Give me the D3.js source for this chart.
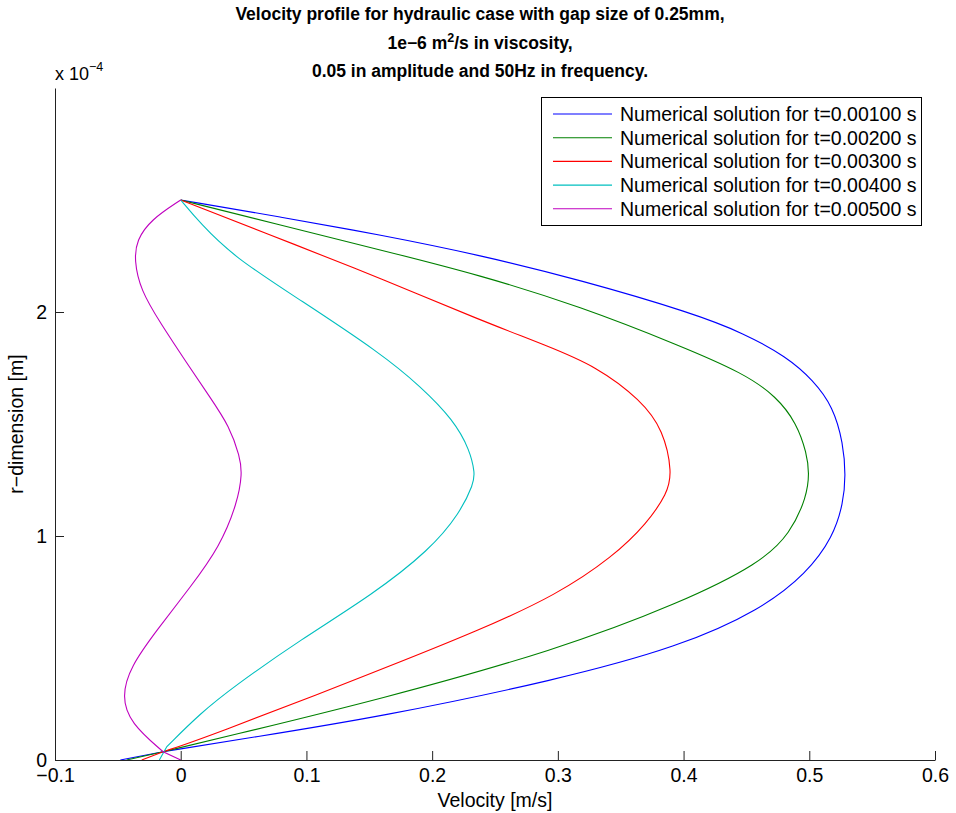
<!DOCTYPE html>
<html>
<head>
<meta charset="utf-8">
<script src="https://cdn.jsdelivr.net/npm/d3@7"></script>
<style>
  body { margin: 0; background: #fff; }
  svg { font-family: "Liberation Sans", Arial, Helvetica, sans-serif; }
</style>
</head>
<body>
<svg id="chart" width="956" height="813"></svg>
<script>
// velocity [m/s], r [x 1e-4 m]
var t001 = [[-0.048,0],[-0.014,0.037],[0.056,0.1],[0.159,0.193],[0.299,0.357],[0.397,0.506],[0.461,0.670],[0.498,0.833],[0.519,0.997],[0.527,1.146],[0.529,1.27],[0.527,1.414],[0.519,1.577],[0.503,1.696],[0.482,1.80],[0.448,1.905],[0.408,1.994],[0.318,2.143],[0.238,2.254],[0.159,2.344],[0.08,2.424],[0,2.5]];
var t002 = [[-0.043,0],[-0.014,0.037],[0.033,0.1],[0.159,0.271],[0.299,0.491],[0.397,0.700],[0.461,0.878],[0.485,1.012],[0.498,1.176],[0.500,1.28],[0.498,1.369],[0.490,1.503],[0.474,1.622],[0.448,1.726],[0.397,1.85],[0.318,2.024],[0.238,2.165],[0.159,2.277],[0.078,2.39],[0,2.5]];
var t003 = [[-0.031,0],[-0.014,0.037],[0.02,0.1],[0.159,0.402],[0.238,0.580],[0.299,0.737],[0.344,0.908],[0.371,1.057],[0.387,1.19],[0.391,1.28],[0.384,1.473],[0.366,1.607],[0.331,1.756],[0.291,1.85],[0.238,1.964],[0.159,2.150],[0.095,2.292],[0,2.5]];
var t004 = [[-0.017,0],[-0.011,0.06],[0.0155,0.208],[0.042,0.327],[0.095,0.536],[0.153,0.74],[0.198,0.9375],[0.222,1.101],[0.233,1.235],[0.234,1.28],[0.230,1.384],[0.217,1.518],[0.191,1.667],[0.159,1.816],[0.095,2.054],[0.042,2.247],[0.0155,2.396],[0,2.5]];
var t005 = [[0,0],[-0.014,0.037],[-0.040,0.164],[-0.047,0.283],[-0.040,0.417],[-0.019,0.580],[0.008,0.774],[0.031,0.952],[0.045,1.146],[0.049,1.28],[0.047,1.354],[0.039,1.488],[0.023,1.622],[0.005,1.771],[-0.016,1.949],[-0.032,2.098],[-0.037,2.232],[-0.035,2.321],[-0.024,2.411],[0,2.5]];

var seriesData = [t001, t002, t003, t004, t005];
var seriesNames = ["Numerical solution for t=0.00100 s","Numerical solution for t=0.00200 s","Numerical solution for t=0.00300 s","Numerical solution for t=0.00400 s","Numerical solution for t=0.00500 s"];
var colors = ["#0000ff","#008000","#ff0000","#00bfbf","#bf00bf"];
var xTicks = [-0.1,0,0.1,0.2,0.3,0.4,0.5,0.6];
var yTicks = [0,1,2];

var pLeft=55, pRight=935, pTop=88, pBottom=760;
var fs=19.5;
var svg = d3.select('#chart');

var x = d3.scaleLinear().domain([-0.1,0.6]).range([pLeft,pRight]);
var y = d3.scaleLinear().domain([0,3]).range([pBottom,pTop]);

// title
var title = svg.append('text')
    .attr('text-anchor','middle')
    .attr('font-size',17.5).attr('font-weight','bold');
title.append('tspan').attr('x',480).attr('y',20).text('Velocity profile for hydraulic case with gap size of 0.25mm,');
var t2 = title.append('tspan').attr('x',480).attr('y',49);
t2.append('tspan').text('1e\u22126 m');
t2.append('tspan').attr('dy',-7).attr('font-size',12.5).text('2');
t2.append('tspan').attr('dy',7).text('/s in viscosity,');
title.append('tspan').attr('x',480).attr('y',77).text('0.05 in amplitude and 50Hz in frequency.');

// curves: straight wall segment, then a smooth profile
var lineLin = d3.line()
    .x(function(d){ return x(d[0]); })
    .y(function(d){ return y(d[1]); });
var lineSmooth = d3.line()
    .x(function(d){ return x(d[0]); })
    .y(function(d){ return y(d[1]); })
    .curve(d3.curveBasis);

svg.append('g').selectAll('path')
    .data(seriesData)
    .enter().append('path')
    .attr('d',function(d){
      return lineLin(d.slice(0,2)) + lineSmooth(d.slice(1)).replace(/^M/,'L');
    })
    .attr('fill','none')
    .attr('stroke',function(d,i){ return colors[i]; })
    .attr('stroke-width',1.1);

// axes
var xAxis = d3.axisBottom(x).tickValues(xTicks).tickSizeInner(-9).tickSizeOuter(0).tickPadding(8)
    .tickFormat(function(d){ return d===0 ? '0' : d3.format('.1f')(d).replace('-','\u2212'); });
var gx = svg.append('g').attr('transform','translate(0,'+pBottom+')').call(xAxis);
var yAxis = d3.axisLeft(y).tickValues(yTicks).tickSizeInner(-9).tickSizeOuter(0).tickPadding(8)
    .tickFormat(d3.format('d'));
var gy = svg.append('g').attr('transform','translate('+pLeft+',0)').call(yAxis);
[gx,gy].forEach(function(g){
  g.selectAll('.domain').attr('stroke','#222');
  g.selectAll('.tick line').attr('stroke','#222');
  g.selectAll('text').attr('font-size',fs).attr('fill','#000').attr('font-family','"Liberation Sans", Arial, sans-serif');
});

// exponent label
var ex = svg.append('text').attr('x',55).attr('y',80).attr('font-size',18);
ex.append('tspan').text('x 10');
ex.append('tspan').attr('dy',-9).attr('font-size',12.5).text('\u22124');

// axis labels
svg.append('text').attr('x',495).attr('y',807).attr('text-anchor','middle').attr('font-size',fs).text('Velocity [m/s]');
svg.append('text').attr('transform','translate(23,424) rotate(-90)').attr('text-anchor','middle').attr('font-size',fs).text('r\u2212dimension [m]');

// legend
var lg = svg.append('g');
lg.append('rect').attr('x',541.5).attr('y',97.5).attr('width',380).attr('height',128)
  .attr('fill','#fff').attr('stroke','#000');
seriesNames.forEach(function(name,i){
  var cy = 114 + i*23.7;
  lg.append('line').attr('x1',553).attr('x2',612).attr('y1',cy).attr('y2',cy)
    .attr('stroke',colors[i]).attr('stroke-width',1.1);
  lg.append('text').attr('x',620).attr('y',cy+7).attr('font-size',fs).text(name);
});
</script>
</body>
</html>
